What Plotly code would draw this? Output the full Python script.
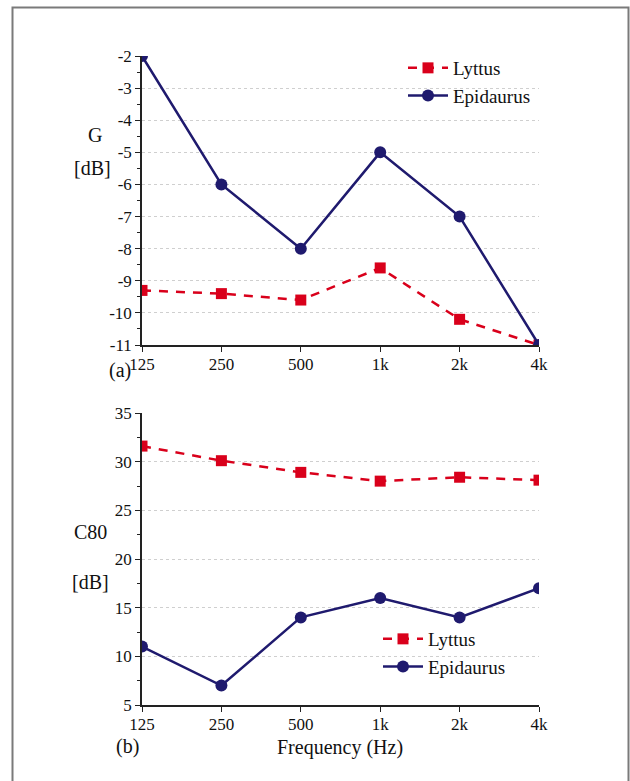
import plotly.graph_objects as go

# Octave-band centre frequencies
freq_labels = ["125", "250", "500", "1k", "2k", "4k"]
freq_pos = list(range(len(freq_labels)))

# Strength G [dB]
g_lyttus = [-9.3, -9.4, -9.6, -8.6, -10.2, -11.0]
g_epidaurus = [-2.0, -6.0, -8.0, -5.0, -7.0, -11.0]
g_ticks = list(range(-11, -1))

# Clarity C80 [dB]
c80_lyttus = [31.6, 30.1, 28.9, 28.0, 28.4, 28.1]
c80_epidaurus = [11.0, 7.0, 14.0, 16.0, 14.0, 17.0]
c80_ticks = [5, 10, 15, 20, 25, 30, 35]

W, H = 630, 781
RED = "#d9001b"
NAVY = "#1f1a6e"
SERIF = "Liberation Serif"


def px(x):
    return x / W


def py(y):
    return 1 - y / H


fig = go.Figure()


def add_pair(lyt, epi, xa, ya, legend):
    fig.add_trace(go.Scatter(
        x=freq_pos, y=lyt, name="Lyttus", mode="lines+markers",
        line=dict(color=RED, width=2.5, dash="9px,8px"),
        marker=dict(symbol="square", size=11, color=RED),
        xaxis=xa, yaxis=ya, legend=legend, cliponaxis=True,
    ))
    fig.add_trace(go.Scatter(
        x=freq_pos, y=epi, name="Epidaurus", mode="lines+markers",
        line=dict(color=NAVY, width=2.5),
        marker=dict(symbol="circle", size=12, color=NAVY),
        xaxis=xa, yaxis=ya, legend=legend, cliponaxis=True,
    ))


add_pair(g_lyttus, g_epidaurus, "x", "y", "legend")
add_pair(c80_lyttus, c80_epidaurus, "x2", "y2", "legend2")

tickfont = dict(family=SERIF, size=17, color="#111")

xcommon = dict(
    range=[0, 5], tickvals=freq_pos, ticktext=freq_labels,
    showline=True, linecolor="#222", linewidth=1.5,
    ticks="outside", ticklen=5, tickwidth=1.2, tickcolor="#222",
    showgrid=False, zeroline=False, tickfont=tickfont, automargin=False,
    ticklabelstandoff=-2,
)
ycommon = dict(
    showline=True, linecolor="#222", linewidth=1.5,
    ticks="outside", ticklen=5, tickwidth=1.2, tickcolor="#222",
    showgrid=True, gridcolor="#cfcfcf", griddash="dot", gridwidth=1,
    zeroline=False, tickfont=tickfont, automargin=False,
)

xdom = [px(142), px(539)]
legend_font = dict(family=SERIF, size=19, color="#111")

fig.update_layout(
    width=W, height=H,
    margin=dict(l=0, r=0, t=0, b=0, autoexpand=False),
    paper_bgcolor="white", plot_bgcolor="white",
    font=dict(family=SERIF, size=17, color="#111"),
    xaxis=dict(domain=xdom, anchor="y", **xcommon),
    yaxis=dict(domain=[py(345), py(56)], anchor="x", range=[-11, -2],
               tickvals=g_ticks, ticktext=[f"{v:d}" for v in g_ticks],
               minor=dict(dtick=0.5, ticks="outside", ticklen=3, tickcolor="#222", showgrid=False),
               **ycommon),
    xaxis2=dict(domain=xdom, anchor="y2", **xcommon),
    yaxis2=dict(domain=[py(705), py(413)], anchor="x2", range=[5, 35],
                tickvals=c80_ticks, ticktext=[str(v) for v in c80_ticks],
                minor=dict(dtick=2.5, ticks="outside", ticklen=3, tickcolor="#222", showgrid=False),
                **ycommon),
    legend=dict(x=px(403), y=py(49), xanchor="left", yanchor="top",
                bgcolor="rgba(0,0,0,0)", font=legend_font,
                itemwidth=40, tracegroupgap=0),
    legend2=dict(x=px(378), y=py(620), xanchor="left", yanchor="top",
                 bgcolor="rgba(0,0,0,0)", font=legend_font,
                 itemwidth=40, tracegroupgap=0),
)

# Outer frame around the figure
fig.add_shape(type="rect", xref="paper", yref="paper",
              x0=px(12.5), x1=px(628.5), y0=-0.05, y1=py(7.5),
              line=dict(color="#7a7a7a", width=2), fillcolor="rgba(0,0,0,0)")

texts = [
    ("G", 95, 135),
    ("[dB]", 92, 168),
    ("(a)", 120, 370),
    ("C80", 90, 532),
    ("[dB]", 91, 582),
    ("(b)", 127, 746),
    ("Frequency (Hz)", 340, 747),
]
for t, x, y in texts:
    fig.add_annotation(text=t, x=px(x), y=py(y), xref="paper", yref="paper",
                       showarrow=False, xanchor="center", yanchor="middle",
                       font=dict(family=SERIF, size=20, color="#111"))

fig.write_html("out.html")
